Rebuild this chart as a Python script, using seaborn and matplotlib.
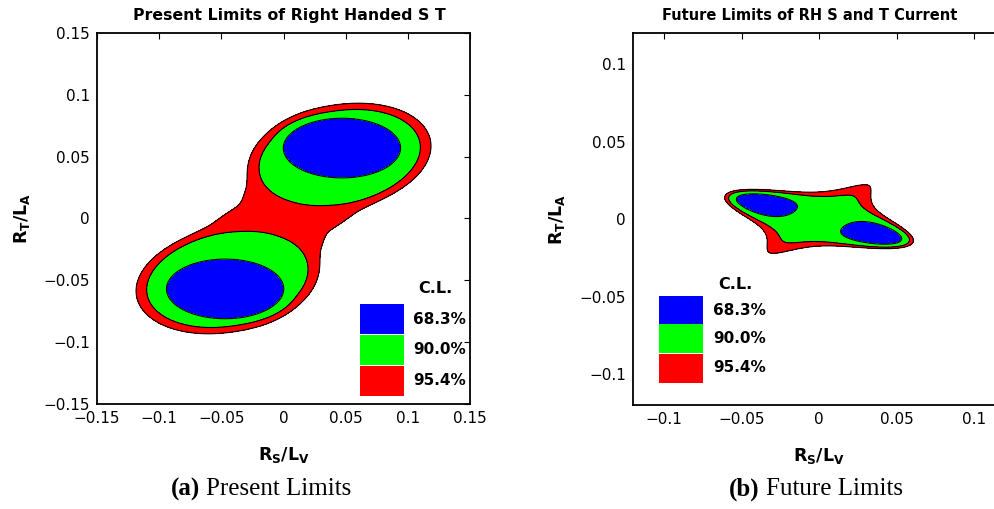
import numpy as np
import matplotlib
matplotlib.use("Agg")
import matplotlib.pyplot as plt
from matplotlib.patches import Rectangle
import seaborn as sns

# Confidence levels and the matching delta-chi2 thresholds for two parameters
CL_LABELS = ["68.3%", "90.0%", "95.4%"]
DCHI2_LEVELS = [2.30, 4.61, 6.18]
CL_COLORS = ["#0000ff", "#00ff00", "#ff0000"]

# Panel (a): present limits; chi2 surface as a smooth union of wells
# cores of the two solutions and their wider 90% shells
A_CENTER_X = [-0.047, 0.047, -0.0457, 0.0457]
A_CENTER_Y = [-0.057, 0.057, -0.050, 0.050]
A_SEMI_U = [0.047, 0.047, 0.065, 0.065]
A_SEMI_V = [0.024, 0.024, 0.037, 0.037]
A_ANGLE_DEG = [0.0, 0.0, 10.0, 10.0]
A_BASE = [0.0, 0.0, 3.2, 3.2]
A_EDGE = [2.30, 2.30, 4.61, 4.61]
A_POWER = [4, 4, 6, 6]
A_SHAPE = [2, 2, 2, 2]

# saddle valley joining the two solutions (two diagonal shoulders + steep neck)
S_CENTER_X = [-0.0448, 0.0448, 0.0]
S_CENTER_Y = [-0.0236, 0.0236, 0.0]
S_SEMI_U = [0.048, 0.048, 0.075]
S_SEMI_V = [0.023, 0.023, 0.036]
S_ANGLE_DEG = [37.0, 37.0, 75.0]
S_BASE = [5.5, 5.5, 5.3]
S_EDGE = [6.18, 6.18, 6.18]
S_POWER = [4, 4, 4]
S_SHAPE = [3, 3, 2]

SOFT_CORE, SOFT_SADDLE, SOFT_JOIN = 0.4, 0.2, 0.8

# Panel (b): future limits, two quadratic observables in (R_S/L_V, R_T/L_A)
B_LINE_ANGLES_DEG = [-15.5, 35.0]
B_PRODUCT_ERR = 1.3e-4
B_RADII = [0.050, 0.031]
B_CHI2_ORIGIN = 3.4

A_LIM = 0.15
B_LIM = 0.12
A_TICKS = [-0.15, -0.1, -0.05, 0.0, 0.05, 0.1, 0.15]
B_TICKS = [-0.1, -0.05, 0.0, 0.05, 0.1]

TITLES = ["Present Limits of Right Handed S T", "Future Limits of RH S and T Current"]
CAPTION_TAGS = ["(a)", "(b)"]
CAPTION_TEXTS = ["Present Limits", "Future Limits"]


def well(X, Y, cx, cy, a, b, angle, base, edge, power, shape):
    t = np.deg2rad(angle)
    dx, dy = X - cx, Y - cy
    u = dx * np.cos(t) + dy * np.sin(t)
    v = -dx * np.sin(t) + dy * np.cos(t)
    r = (np.abs(u / a) ** shape + np.abs(v / b) ** shape) ** (1.0 / shape)
    return base + (edge - base) * r ** power


def soft_min(terms, softness):
    terms = np.array(terms)
    m = terms.min(axis=0)
    return m - softness * np.log(np.exp(-(terms - m) / softness).sum(axis=0))


def chi2_wells(X, Y):
    core = soft_min([well(X, Y, *args) for args in zip(
        A_CENTER_X, A_CENTER_Y, A_SEMI_U, A_SEMI_V, A_ANGLE_DEG,
        A_BASE, A_EDGE, A_POWER, A_SHAPE)], SOFT_CORE)
    saddle = soft_min([well(X, Y, *args) for args in zip(
        S_CENTER_X, S_CENTER_Y, S_SEMI_U, S_SEMI_V, S_ANGLE_DEG,
        S_BASE, S_EDGE, S_POWER, S_SHAPE)], SOFT_SADDLE)
    return soft_min([core, saddle], SOFT_JOIN)


def chi2_observables(X, Y):
    t1, t2 = np.deg2rad(B_LINE_ANGLES_DEG)
    p1 = -X * np.sin(t1) + Y * np.cos(t1)
    p2 = -X * np.sin(t2) + Y * np.cos(t2)
    r1, r2 = B_RADII
    chi2 = (p1 * p2 / B_PRODUCT_ERR) ** 2 \
        + B_CHI2_ORIGIN * (p2 ** 2 / r2 ** 2 - p1 ** 2 / r1 ** 2 - 1.0) ** 2
    return chi2 - chi2.min()


def tick_text(v):
    s = "0" if v == 0 else f"{v:g}"
    return s.replace("-", "\u2212")


sns.set_theme(style="white")
plt.rcParams["font.family"] = ["DejaVu Sans"]
plt.rcParams["mathtext.fontset"] = "dejavusans"

fig = plt.figure(figsize=(9.95, 5.09), dpi=100)
axA = fig.add_axes([0.0975, 0.2063, 0.3749, 0.7289])
axB = fig.add_axes([0.6362, 0.2043, 0.3739, 0.7308])

panels = [
    dict(ax=axA, field=chi2_wells, lim=A_LIM, ticks=A_TICKS,
         box=(0.705, 0.118, [0.189, 0.105, 0.022], 0.081),
         lab=(0.847, [0.229, 0.146, 0.062]), cl=(0.906, 0.311),
         title_x=0.517, title_size=11.3, ylab_x=-0.175),
    dict(ax=axB, field=chi2_observables, lim=B_LIM, ticks=B_TICKS,
         box=(0.070, 0.118, [0.215, 0.140, 0.059], 0.078),
         lab=(0.215, [0.253, 0.178, 0.100]), cl=(0.274, 0.323),
         title_x=0.476, title_size=10.5, ylab_x=-0.178),
]

for i, p in enumerate(panels):
    ax, lim, ticks = p["ax"], p["lim"], p["ticks"]
    g = np.linspace(-lim, lim, 700)
    X, Y = np.meshgrid(g, g)
    Z = p["field"](X, Y)
    ax.contourf(X, Y, Z, levels=[-1.0] + DCHI2_LEVELS, colors=CL_COLORS)
    ax.contour(X, Y, Z, levels=DCHI2_LEVELS, colors="black", linewidths=0.8)
    ax.set_xlim(-lim, lim)
    ax.set_ylim(-lim, lim)
    ax.set_xticks(ticks)
    ax.set_yticks(ticks)
    ax.set_xticklabels([tick_text(t) for t in ticks])
    ax.set_yticklabels([tick_text(t) for t in ticks])
    ax.tick_params(direction="in", top=True, right=True, length=4, width=0.8,
                   labelsize=11, colors="black", pad=5)
    for sp in ax.spines.values():
        sp.set_color("black")
        sp.set_linewidth(1.3)

    ax.set_xlabel(r"$\mathbf{R_S/L_V}$", fontsize=12.5, color="black")
    ax.set_ylabel(r"$\mathbf{R_T/L_A}$", fontsize=12.5, color="black")
    ax.xaxis.set_label_coords(0.5, -0.11)
    ax.yaxis.set_label_coords(p["ylab_x"], 0.5)
    ax.text(p["title_x"], 1.048, TITLES[i], transform=ax.transAxes, ha="center",
            va="center", fontsize=p["title_size"], fontweight="bold", color="black")

    # confidence-level key
    bx, bw, bys, bh = p["box"]
    for col, by in zip(CL_COLORS, bys):
        ax.add_patch(Rectangle((bx, by), bw, bh, transform=ax.transAxes,
                               facecolor=col, edgecolor="none", clip_on=False))
    lx, lys = p["lab"]
    for txt, ly in zip(CL_LABELS, lys):
        ax.text(lx, ly, txt, transform=ax.transAxes, ha="left", va="center",
                fontsize=11, fontweight="bold", color="black")
    ax.text(p["cl"][0], p["cl"][1], "C.L.", transform=ax.transAxes, ha="center",
            va="center", fontsize=11.5, fontweight="bold", color="black")

# sub-figure captions
cap_split = [200 / 995, 760 / 995]
for tag, txt, xs in zip(CAPTION_TAGS, CAPTION_TEXTS, cap_split):
    fig.text(xs, 1 - 489 / 509, tag, ha="right", va="center", fontsize=18,
             fontweight="bold", family="Liberation Serif", color="black")
    fig.text(xs + 6 / 995, 1 - 489 / 509, txt, ha="left", va="center",
             fontsize=18, family="Liberation Serif", color="black")

fig.savefig("out.png", dpi=100, facecolor="white")
